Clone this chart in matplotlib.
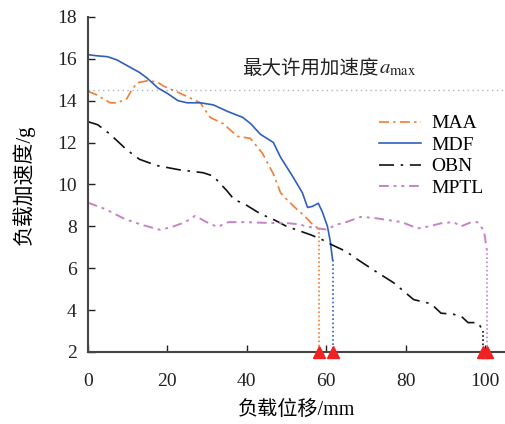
import numpy as np
import matplotlib.pyplot as plt

plt.rcParams['font.family'] = ['Liberation Serif', 'Noto Sans CJK SC']
plt.rcParams['mathtext.fontset'] = 'stix'

# data
maa_x = [0, 2, 5.6, 7.5, 9.8, 11, 12.4, 15, 17.4, 19, 21.5, 25, 28.3, 30.8, 34.1,
         37.6, 40.9, 43.9, 46.7, 48.5, 50.5, 52.7, 54.5, 56, 57, 58.3]
maa_y = [14.45, 14.3, 13.9, 13.9, 14.1, 14.5, 14.86, 14.95, 14.9, 14.7, 14.5, 14.2,
         13.9, 13.2, 12.9, 12.3, 12.2, 11.5, 10.5, 9.6, 9.2, 8.8, 8.5, 8.2, 8.0, 7.9]

mdf_x = [0, 2, 5, 7.3, 10.6, 13, 14.9, 17.7, 20, 22.7, 25, 28.3, 31.6, 35, 39, 41,
         43.4, 46.7, 48.5, 51.5, 54, 55.3, 56.5, 58, 59, 60.3, 61, 61.6]
mdf_y = [16.2, 16.15, 16.1, 15.95, 15.6, 15.35, 15.08, 14.6, 14.35, 14.0, 13.9, 13.9,
         13.8, 13.5, 13.2, 12.9, 12.4, 12.0, 11.3, 10.4, 9.6, 8.9, 8.95, 9.1, 8.7,
         8.0, 7.3, 6.4]

obn_x = [0, 2.5, 5.6, 9.8, 13, 17.4, 23, 29, 31.6, 33, 35, 36.7, 40, 43.4, 47, 50,
         53, 56, 58.6, 61.6, 65, 68, 72, 77, 82, 86.4, 88.9, 92, 94, 95.7, 97, 98.2,
         99.5]
obn_y = [13.0, 12.85, 12.4, 11.65, 11.2, 10.9, 10.7, 10.56, 10.4, 10.1, 9.7, 9.3,
         9.0, 8.6, 8.3, 8.0, 7.8, 7.6, 7.4, 7.1, 6.8, 6.4, 5.9, 5.3, 4.5, 4.3, 3.85,
         3.8, 3.7, 3.4, 3.4, 3.4, 3.0]

mptl_x = [0, 4.3, 9.3, 13.6, 18.2, 21.2, 24.5, 27, 30.3, 32.6, 35.4, 39.6, 45.5,
          49.7, 53, 55, 57.8, 60, 63, 65, 68.7, 72, 75.5, 79, 83, 86, 89, 92, 94,
          96.5, 98, 99.7, 100.4]
mptl_y = [9.13, 8.83, 8.35, 8.07, 7.83, 7.97, 8.2, 8.5, 8.16, 7.97, 8.2, 8.2, 8.16,
          8.16, 8.1, 8.0, 7.9, 7.85, 8.1, 8.2, 8.45, 8.4, 8.3, 8.2, 7.9, 8.0, 8.15,
          8.2, 8.0, 8.2, 8.2, 7.8, 6.9]

a_max = 14.5
end_x = [58.3, 61.6, 99.5, 100.4]

c_maa = '#f07d32'
c_mdf = '#2f5fbf'
c_obn = '#111111'
c_mptl = '#c683c6'

fig = plt.figure(figsize=(5.05, 4.24), dpi=100)
ax = fig.add_axes([0.174, 0.17, 0.826, 0.79])

ax.axhline(a_max, color='#b0b0b0', lw=1.0, ls=(0, (1, 2.5)))

ax.plot(maa_x, maa_y, color=c_maa, lw=1.2, ls=(0, (6, 2.5, 1.5, 2.5)), label='MAA')
ax.plot(mdf_x, mdf_y, color=c_mdf, lw=1.2, ls='-', label='MDF')
ax.plot(obn_x, obn_y, color=c_obn, lw=1.2, ls=(0, (9, 4, 1.5, 4)), label='OBN')
ax.plot(mptl_x, mptl_y, color=c_mptl, lw=1.4, ls=(0, (5, 2.5, 1.5, 2.5, 1.5, 2.5)),
        label='MPTL')

# dotted drops to the end points
for xs, ys, c in [(maa_x, maa_y, c_maa), (mdf_x, mdf_y, c_mdf),
                  (obn_x, obn_y, c_obn), (mptl_x, mptl_y, c_mptl)]:
    ax.plot([xs[-1], xs[-1]], [ys[-1], 2], color=c, lw=1.2, ls=(0, (1, 1.5)))

ax.plot(end_x, [2] * len(end_x), ls='none', marker='^', ms=9, color='#ee2222',
        clip_on=False, zorder=5)

# label of the allowed maximum, Chinese part and math part set separately
ax.text(73.2, 15.55, '最大许用加速度', fontsize=14, ha='right', va='center',
        family='Noto Sans CJK SC', color='#222222')
ax.text(73.4, 15.5, r'$a_{\rm max}$', fontsize=15, ha='left', va='center',
        color='#222222')

ax.set_xlim(0, 105)
ax.set_ylim(2, 18)
ax.set_xticks(np.arange(0, 101, 20))
ax.set_yticks(np.arange(2, 19, 2))
ax.tick_params(direction='in', length=5, width=1, labelsize=14, colors='#222222')
ax.tick_params(axis='x', pad=15)
ax.tick_params(axis='y', pad=8)
for s in ['top', 'right']:
    ax.spines[s].set_visible(False)
for s in ['left', 'bottom']:
    ax.spines[s].set_linewidth(1.5)
    ax.spines[s].set_color('#444444')

ax.set_xlabel('负载位移/mm', fontsize=14.5, labelpad=8)
ax.set_ylabel('负载加速度/g', fontsize=15, labelpad=16)

ax.legend(loc='upper right', bbox_to_anchor=(0.99, 0.76), frameon=False, fontsize=14,
          handlelength=2.2, labelspacing=0.2, handletextpad=0.5)

fig.savefig('out.png', dpi=100)
